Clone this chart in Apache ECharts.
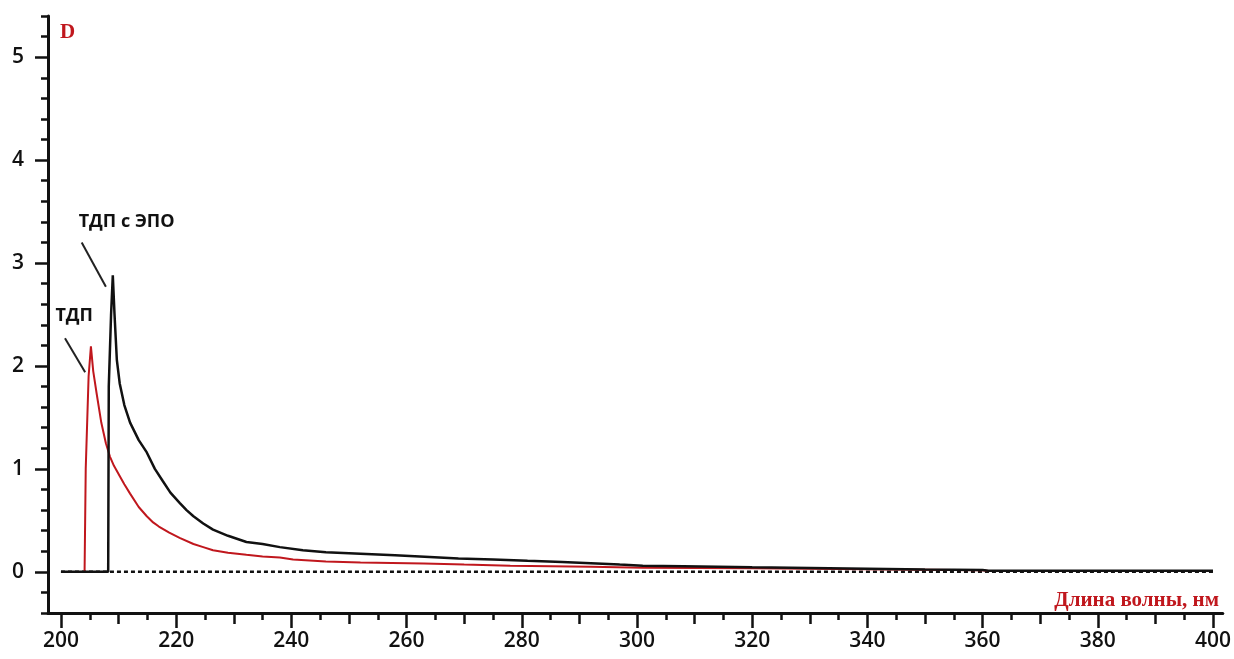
<!DOCTYPE html>
<html>

<head>
    <meta charset="utf-8" />
    <script src="https://cdn.jsdelivr.net/npm/echarts@6/dist/echarts.min.js"></script>
    <style>
        html, body { margin: 0; padding: 0; background: #fff; }
    </style>
</head>

<body>
    <div id="main" style="width:1234px;height:659px;"></div>
    <script>
        // ТДП (красная) и ТДП с ЭПО (чёрная): [длина волны, D]
        var tdp = [
            [204.1, 0], [204.3, 1.0], [204.8, 1.9], [205.2, 2.19], [205.6, 1.95], [206.2, 1.73],
            [207, 1.45], [207.8, 1.25], [208.5, 1.12], [209.2, 1.03], [210, 0.95], [211, 0.85],
            [212, 0.76], [213.5, 0.63], [214.9, 0.54], [216, 0.48], [217, 0.44], [218.8, 0.38],
            [220.6, 0.33], [223, 0.27], [224.7, 0.24], [226.4, 0.21], [229, 0.185], [232.2, 0.165],
            [235, 0.15], [238, 0.14], [240.3, 0.12], [246, 0.1], [252, 0.09], [263, 0.082],
            [270, 0.07], [278, 0.06], [292, 0.05], [301, 0.04], [320, 0.035], [340, 0.025],
            [360, 0.015], [361, 0.008], [400, 0.008]
        ];
        var tdpEpo = [
            [200, 0], [208.2, 0], [208.3, 1.8], [208.7, 2.5], [209.0, 2.88], [209.3, 2.5],
            [209.7, 2.06], [210.2, 1.83], [211, 1.62], [212, 1.45], [213.5, 1.28], [214.9, 1.16],
            [216.3, 1.0], [217.7, 0.88], [219, 0.77], [220.6, 0.67], [221.8, 0.6], [223, 0.54],
            [224.7, 0.47], [226.4, 0.41], [229, 0.35], [232.2, 0.29], [235, 0.27], [238, 0.24],
            [242, 0.21], [246, 0.19], [252, 0.175], [258, 0.16], [264, 0.145], [269, 0.13],
            [275, 0.12], [281, 0.107], [287, 0.095], [292, 0.084], [297, 0.07], [301, 0.06],
            [308, 0.055], [320, 0.045], [340, 0.03], [350, 0.022], [360, 0.018], [361, 0.01],
            [400, 0.01]
        ];
        var baseline = [[200, 0], [400, 0]];

        // подписи осей
        var xMajor = [200, 220, 240, 260, 280, 300, 320, 340, 360, 380, 400];
        var xMid = [210, 230, 250, 270, 290, 310, 330, 350, 370, 390];
        var xMinor = [205, 215, 225, 235, 245, 255, 265, 275, 285, 295, 305, 315, 325, 335, 345, 355, 365, 375, 385, 395];
        var yMajor = [0, 1, 2, 3, 4, 5];
        var yMinor = [-0.4, -0.2, 0.2, 0.4, 0.6, 0.8, 1.2, 1.4, 1.6, 1.8, 2.2, 2.4, 2.6, 2.8,
            3.2, 3.4, 3.6, 3.8, 4.2, 4.4, 4.6, 4.8, 5.2, 5.4];

        // выноски: текст, точка текста, начало и конец линии
        var notes = [
            { text: 'ТДП с ЭПО', at: [211.4, 3.40], from: [203.6, 3.20], to: [207.8, 2.77] },
            { text: 'ТДП', at: [202.3, 2.49], from: [200.7, 2.27], to: [204.2, 1.94] }
        ];

        var red = '#c0171d';
        var font = '"Open Sans", sans-serif';

        var myChart = echarts.init(document.getElementById('main'));

        function xAxis(vals, len, labels, line) {
            return {
                type: 'value', min: 197.75, max: 401.7, position: 'bottom',
                axisLine: { show: line, onZero: false, lineStyle: { color: '#111', width: 3 } },
                axisTick: { show: true, customValues: vals, length: len, lineStyle: { color: '#111', width: 2.5 } },
                axisLabel: {
                    show: labels, customValues: vals, margin: 18,
                    color: '#111', fontFamily: font, fontWeight: 600, fontSize: 21
                },
                splitLine: { show: false }
            };
        }
        function yAxis(vals, len, labels, line) {
            return {
                type: 'value', min: -0.4, max: 5.4, position: 'left',
                axisLine: { show: line, onZero: false, lineStyle: { color: '#111', width: 3 } },
                axisTick: { show: true, customValues: vals, length: len, lineStyle: { color: '#111', width: 2.5 } },
                axisLabel: {
                    show: labels, customValues: vals, margin: 24,
                    color: '#111', fontFamily: font, fontWeight: 600, fontSize: 21
                },
                splitLine: { show: false }
            };
        }

        var option = {
            animation: false,
            backgroundColor: '#fff',
            grid: { left: 48, right: 9, top: 16, bottom: 46 },
            title: [
                {
                    text: 'D', left: 55, top: 17,
                    textStyle: { color: red, fontFamily: '"Liberation Serif", serif', fontWeight: 'bold', fontSize: 21 }
                },
                {
                    text: 'Длина волны, нм', right: 10, top: 585,
                    textStyle: { color: red, fontFamily: '"Liberation Serif", serif', fontWeight: 'bold', fontSize: 21 }
                }
            ],
            xAxis: [
                xAxis(xMajor, 15, true, true),
                xAxis(xMid, 11, false, false),
                xAxis(xMinor, 7, false, false)
            ],
            yAxis: [
                yAxis(yMajor, 13, true, true),
                yAxis(yMinor, 7, false, false)
            ],
            series: [
                {
                    name: 'baseline', type: 'line', data: baseline, symbol: 'none', silent: true,
                    lineStyle: { color: '#111', width: 2.5, type: [4, 3] }, z: 1
                },
                {
                    name: 'ТДП', type: 'line', data: tdp, symbol: 'none',
                    lineStyle: { color: red, width: 2 }, z: 2
                },
                {
                    name: 'ТДП с ЭПО', type: 'line', data: tdpEpo, symbol: 'none',
                    lineStyle: { color: '#111', width: 2.5 }, z: 3,
                    markLine: {
                        silent: true, symbol: ['none', 'none'],
                        label: { show: false },
                        lineStyle: { color: '#222', width: 2, type: 'solid' },
                        data: notes.map(function (n) {
                            return [{ coord: n.from }, { coord: n.to }];
                        })
                    },
                    markPoint: {
                        silent: true, symbol: 'circle', symbolSize: 0,
                        label: {
                            show: true, position: 'inside', color: '#111',
                            fontFamily: font, fontWeight: 'bold', fontSize: 18,
                            formatter: function (p) { return p.name; }
                        },
                        data: notes.map(function (n) {
                            return { name: n.text, coord: n.at };
                        })
                    }
                }
            ]
        };

        myChart.setOption(option);
    </script>
</body>

</html>
